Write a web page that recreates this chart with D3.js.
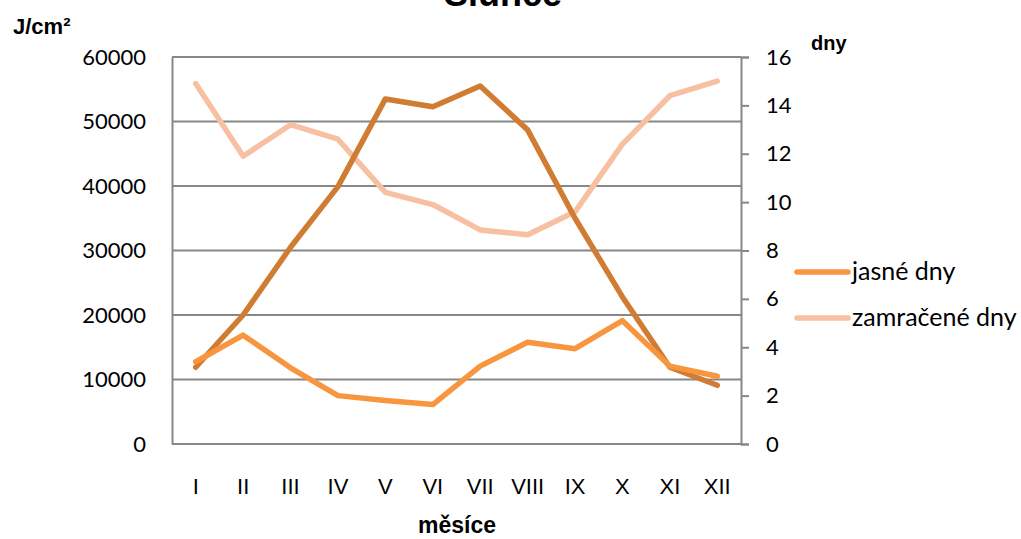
<!DOCTYPE html>
<html><head><meta charset="utf-8">
<script src="https://cdn.jsdelivr.net/npm/d3@7"></script>
<style>
html,body{margin:0;padding:0;background:#fff;}
svg{display:block;}
</style>
</head><body>
<svg id="c" width="1021" height="539"></svg>
<script>
const months = ["I","II","III","IV","V","VI","VII","VIII","IX","X","XI","XII"];
const energie = [11900, 20000, 30500, 39900, 53500, 52300, 55500, 48700, 35000, 22800, 11900, 9100];
const jasne = [3.4, 4.5, 3.15, 2.0, 1.8, 1.63, 3.22, 4.21, 3.94, 5.1, 3.22, 2.8];
const zamracene = [14.9, 11.9, 13.2, 12.6, 10.4, 9.9, 8.85, 8.65, 9.6, 12.4, 14.4, 15.0];
const leftTicks = [0, 10000, 20000, 30000, 40000, 50000, 60000];
const rightTicks = [0, 2, 4, 6, 8, 10, 12, 14, 16];
const legendNames = ["jasné dny", "zamračené dny"];

const svg = d3.select("#c");
const L = 172, R = 741, T = 57, B = 444;
const x = d3.scaleBand().domain(months).range([L, R]);
const yL = d3.scaleLinear().domain([0, 60000]).range([B, T]);
const yR = d3.scaleLinear().domain([0, 16]).range([B, T]);
const grid = "#878787";
const cDark = "#D07C33", cJas = "#F8963F", cZam = "#F7C0A3";
const tickFont = "Lato, 'Open Sans', sans-serif";

// title (cut off at top)
svg.append("text").attr("x", 503).attr("y", 6).attr("text-anchor", "middle")
  .attr("font-family", "'Liberation Sans', Arial, sans-serif").attr("font-weight", "bold")
  .attr("font-size", 36).attr("fill", "#000").text("Slunce");

// gridlines
svg.append("g").selectAll("line").data(leftTicks).join("line")
  .attr("x1", L).attr("x2", R).attr("y1", d => yL(d)).attr("y2", d => yL(d))
  .attr("stroke", grid).attr("stroke-width", 2);

// left axis
const gl = svg.append("g").attr("transform", `translate(${L},0)`)
  .call(d3.axisLeft(yL).tickValues(leftTicks).tickSize(0).tickPadding(26).tickFormat(d3.format("d")));
gl.select(".domain").attr("stroke", grid).attr("stroke-width", 2);
gl.selectAll("text").attr("font-family", tickFont).attr("font-size", 22).attr("fill", "#000");

// right axis
const gr = svg.append("g").attr("transform", `translate(${R},0)`)
  .call(d3.axisRight(yR).tickValues(rightTicks).tickSize(8).tickPadding(17));
gr.select(".domain").attr("stroke", grid).attr("stroke-width", 2);
gr.selectAll(".tick line").attr("stroke", grid).attr("stroke-width", 2);
gr.selectAll("text").attr("font-family", tickFont).attr("font-size", 22).attr("fill", "#000");

// x axis labels
const gx = svg.append("g").attr("transform", `translate(0,${B})`)
  .call(d3.axisBottom(x).tickSize(0).tickPadding(34));
gx.select(".domain").remove();
gx.selectAll("text").attr("font-family", "'Liberation Sans', Arial, sans-serif")
  .attr("font-size", 22).attr("fill", "#000");

// axis titles
svg.append("text").attr("x", 13).attr("y", 34)
  .attr("font-family", "'Liberation Sans', Arial, sans-serif").attr("font-weight", "bold")
  .attr("font-size", 22).attr("fill", "#000").text("J/cm²");
svg.append("text").attr("x", 811).attr("y", 50)
  .attr("font-family", "'Liberation Sans', Arial, sans-serif").attr("font-weight", "bold")
  .attr("font-size", 20).attr("fill", "#000").text("dny");
svg.append("text").attr("x", 457).attr("y", 533).attr("text-anchor", "middle")
  .attr("font-family", "'Liberation Sans', Arial, sans-serif").attr("font-weight", "bold")
  .attr("font-size", 23).attr("fill", "#000").text("měsíce");

// lines
const cx = m => x(m) + x.bandwidth() / 2;
function drawLine(vals, yS, color) {
  const line = d3.line().x((d, i) => cx(months[i])).y(d => yS(d));
  svg.append("path").datum(vals).attr("d", line).attr("fill", "none")
    .attr("stroke", color).attr("stroke-width", 5.5)
    .attr("stroke-linecap", "round").attr("stroke-linejoin", "round");
}
drawLine(zamracene, yR, cZam);
drawLine(energie, yL, cDark);
drawLine(jasne, yR, cJas);

// legend
const lg = svg.append("g");
const legendColors = [cJas, cZam];
const legendY = [272, 318];
legendNames.forEach((n, i) => {
  lg.append("line").attr("x1", 797).attr("x2", 848).attr("y1", legendY[i]).attr("y2", legendY[i])
    .attr("stroke", legendColors[i]).attr("stroke-width", 5.5).attr("stroke-linecap", "round");
  lg.append("text").attr("x", 852).attr("y", legendY[i] + 8)
    .attr("font-family", tickFont).attr("font-size", 25).attr("fill", "#000").text(n);
});
</script>
</body></html>
